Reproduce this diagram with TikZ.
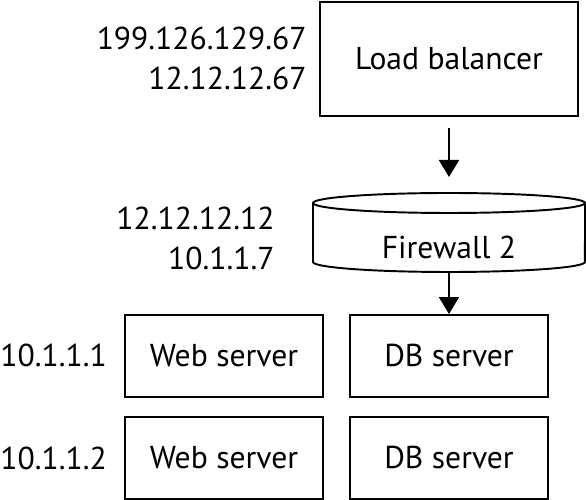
\documentclass[tikz,border=0pt]{standalone}
\usepackage{fontspec}
\setmainfont{PT Sans}
\usetikzlibrary{arrows.meta}
\tikzset{
  srvbox/.style={draw,line width=1.1pt,minimum width=3.96cm,minimum height=1.64cm,inner sep=0pt},
  iplabel/.style={align=right,inner sep=0pt},
  flow/.style={-{Triangle[width=0.4cm,length=0.34cm]},line width=1.1pt}
}

\begin{document}
\begin{tikzpicture}[x=0.02cm,y=0.02cm,font=\fontsize{18}{22.8}\selectfont]
  \useasboundingbox (0,0) rectangle (586,500);
  % load balancer
  \node[srvbox,minimum width=5.16cm,minimum height=2.28cm] (lb) at (449,441) {Load balancer};
  \node[iplabel,anchor=east] (lbip) at (307,442) {199.126.129.67\\12.12.12.67};
  % firewall drum
  \draw[line width=1.1pt] (313,297) -- (313,238)
    arc[start angle=180,end angle=360,x radius=2.72cm,y radius=0.2cm] -- (585,297);
  \draw[line width=1.1pt] (449,297) ellipse[x radius=2.72cm,y radius=0.2cm];
  \node (fw) at (449,253) {Firewall 2};
  \coordinate (fwtop) at (449,307);
  \coordinate (fwbot) at (449,228);
  \node[iplabel,anchor=east] (fwip) at (275,262) {12.12.12.12\\10.1.1.7};
  % servers
  \node[srvbox] (web1) at (224,144) {Web server};
  \node[srvbox] (db1) at (449,144) {DB server};
  \node[srvbox] (web2) at (224,42) {Web server};
  \node[srvbox] (db2) at (449,42) {DB server};
  \node[iplabel,anchor=west] (ip1) at (0,145) {10.1.1.1};
  \node[iplabel,anchor=west] (ip2) at (0,42) {10.1.1.2};
  % arrows
  \draw[flow,shorten <=0.22cm,shorten >=0.32cm] (lb.south) -- (fwtop);
  \draw[flow] (fwbot) -- (db1.north);
\end{tikzpicture}
\end{document}
